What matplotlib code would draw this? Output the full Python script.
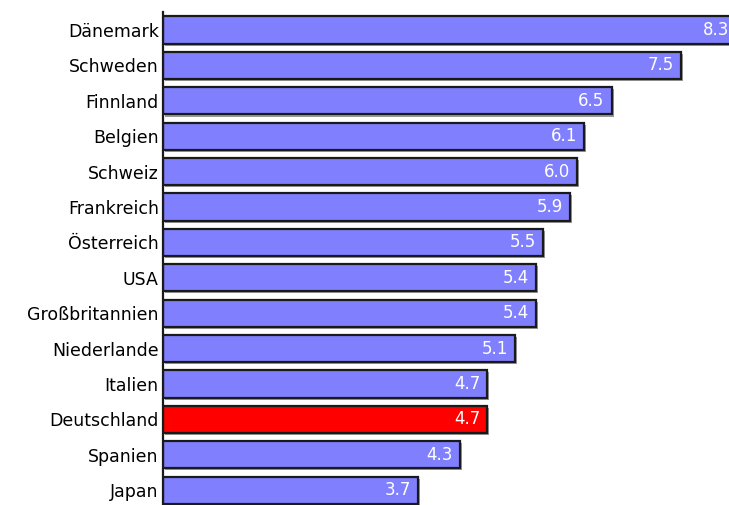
import numpy as np
import matplotlib.pyplot as plt
import matplotlib.patheffects as pe

# Daten
laender = ['Dänemark', 'Schweden', 'Finnland', 'Belgien', 'Schweiz', 'Frankreich',
           'Österreich', 'USA', 'Großbritannien', 'Niederlande', 'Italien',
           'Deutschland', 'Spanien', 'Japan']
werte = [8.3, 7.5, 6.5, 6.1, 6.0, 5.9, 5.5, 5.4, 5.4, 5.1, 4.7, 4.7, 4.3, 3.7]
labels = ['8.3', '7.5', '6.5', '6.1', '6.0', '5.9', '5.5', '5.4', '5.4', '5.1',
          '4.7', '4.7', '4.3', '3.7']

blau = '#8080ff'
rot = '#ff0000'
farben = [rot if l == 'Deutschland' else blau for l in laender]

fig = plt.figure(figsize=(7.29, 5.05), dpi=100)
ax = fig.add_axes([163 / 729, 0, 1 - 163 / 729, (505 - 12) / 505])

y = np.arange(len(laender))
bars = ax.barh(y, werte, height=0.77, color=farben, edgecolor='#1a1a1a',
               linewidth=1.6, zorder=2)
for b in bars:
    b.set_path_effects([pe.SimplePatchShadow(offset=(1.5, -1.5), shadow_rgbFace='#999999', alpha=1),
                        pe.Normal()])

# Werte in die Balken
for yi, w, t in zip(y, werte, labels):
    ax.annotate(t, (w, yi), xytext=(-5, 0), textcoords='offset points',
                ha='right', va='center', color='white', fontsize=12,
                zorder=3, annotation_clip=False)

ax.set_xlim(0, 566 / 69.0)
ax.set_ylim(len(laender) - 1 + 0.42, -0.51)

ax.set_yticks(y)
ax.set_yticklabels(laender, fontsize=12.5)
ax.tick_params(axis='y', length=0, pad=3)
ax.set_xticks([])

for s in ['top', 'right', 'bottom']:
    ax.spines[s].set_visible(False)
ax.spines['left'].set_linewidth(1.6)
ax.spines['left'].set_color('#1a1a1a')
ax.spines['left'].set_zorder(4)

fig.savefig('out.png', dpi=100)
